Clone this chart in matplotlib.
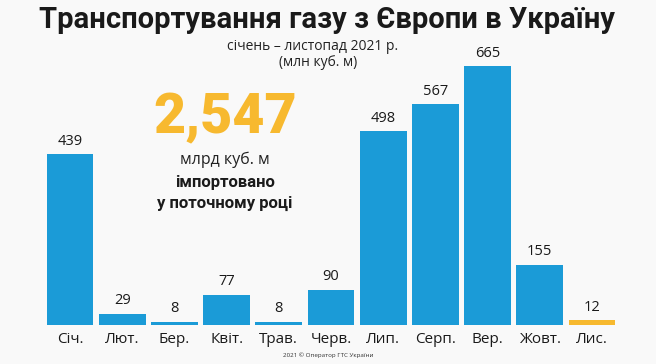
import matplotlib
matplotlib.use("Agg")
import matplotlib.pyplot as plt

months = ["Січ.", "Лют.", "Бер.", "Квіт.", "Трав.", "Черв.", "Лип.", "Серп.", "Вер.", "Жовт.", "Лис."]
values = [439, 29, 8, 77, 8, 90, 498, 567, 665, 155, 12]
colors = ["#1b9bd7"] * 10 + ["#f7b92f"]

title = "Транспортування газу з Європи в Україну"
subtitle1 = "січень – листопад 2021 р."
subtitle2 = "(млн куб. м)"
big_number = "2,547"
note1 = "млрд куб. м"
note2 = "імпортовано"
note3 = "у поточному році"
footer = "2021 © Оператор ГТС України"

plt.rcParams['font.family'] = ['Open Sans', 'DejaVu Sans']
bold_fam = ['Roboto', 'DejaVu Sans']
bg = "#f9f9f9"
fig = plt.figure(figsize=(6.56, 3.64), dpi=100, facecolor=bg)
ax = fig.add_axes([0, 0, 1, 1])
ax.set_facecolor(bg)

x = list(range(len(values)))
ax.bar(x, values, width=0.9, color=colors)
ax.set_xlim(-1.341, 11.226)
ax.set_ylim(-100.3, 835.5)
ax.axis("off")

for xi, v in zip(x, values):
    ax.annotate(str(v), (xi, v), xytext=(0, 4), textcoords="offset points",
                ha="center", va="bottom", fontsize=10.5, color="#1a1a1a")
for xi, m in zip(x, months):
    ax.annotate(m, (xi, 0), xytext=(0, -5), textcoords="offset points",
                ha="center", va="top", fontsize=11, color="#1a1a1a")

fig.text(327/656, 1 - 20/364, title, ha="center", va="center", fontsize=21,
         fontweight="bold", color="#1a1a1a", family=bold_fam)
fig.text(313/656, 1 - 47/364, subtitle1, ha="center", va="center", fontsize=10,
         color="#222222")
fig.text(318/656, 1 - 63/364, subtitle2, ha="center", va="center", fontsize=10,
         color="#222222")
fig.text(225/656, 1 - 118/364, big_number, ha="center", va="center", fontsize=40,
         fontweight="black", color="#f7b92f", family=bold_fam)
fig.text(225/656, 1 - 160/364, note1, ha="center", va="center", fontsize=11.5, color="#222222")
fig.text(225/656, 1 - 182/364, note2, ha="center", va="center", fontsize=12,
         fontweight="bold", color="#1a1a1a", family=bold_fam)
fig.text(225/656, 1 - 203/364, note3, ha="center", va="center", fontsize=12,
         fontweight="bold", color="#1a1a1a", family=bold_fam)
fig.text(328/656, 1 - 355/364, footer, ha="center", va="center", fontsize=4.5, color="#333333")

fig.savefig("out.png", dpi=100, facecolor=bg)
